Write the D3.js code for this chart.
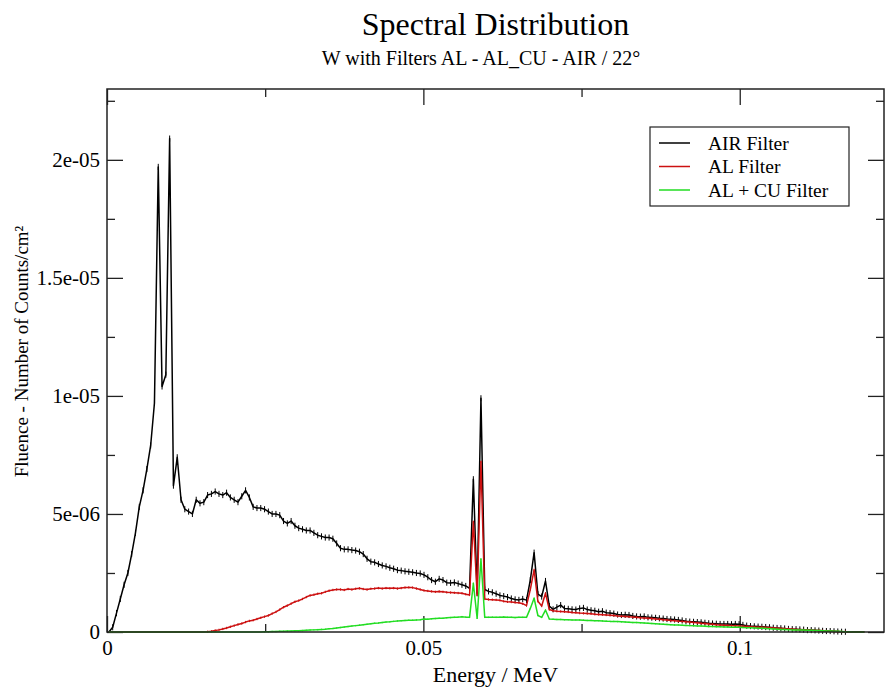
<!DOCTYPE html>
<html>
<head>
<meta charset="utf-8">
<script src="https://cdn.jsdelivr.net/npm/d3@7"></script>
<style>
  body { margin: 0; background: #fff; }
  svg { display: block; font-family: "Liberation Serif", "DejaVu Serif", serif; }
</style>
</head>
<body>
<div id="chart"></div>
<script>
// Spectrum bins: 0.6 keV wide, values in units of 1e-6 counts/cm²
var binWidth = 0.0006;

var airFilter = [
  0.0, 0.2, 0.8, 1.4, 2.0, 2.5, 3.3, 4.2, 5.3, 6.0,
  6.9, 7.9, 9.7, 19.7, 10.4, 10.9, 20.9, 6.2, 7.4, 5.6,
  5.2, 5.1, 5.0, 5.6, 5.45, 5.5, 5.8, 5.85, 5.95, 5.85,
  5.8, 5.9, 5.7, 5.6, 5.5, 5.75, 6.0, 5.7, 5.3, 5.25,
  5.25, 5.2, 5.1, 5.0, 5.0, 4.95, 4.7, 4.6, 4.7, 4.5,
  4.4, 4.35, 4.3, 4.3, 4.2, 4.1, 4.05, 4.0, 4.0, 3.95,
  3.75, 3.55, 3.5, 3.5, 3.47, 3.45, 3.4, 3.3, 3.1, 2.98,
  2.95, 2.88, 2.82, 2.78, 2.72, 2.68, 2.62, 2.6, 2.57, 2.55,
  2.53, 2.5, 2.48, 2.42, 2.32, 2.2, 2.13, 2.25, 2.2, 2.09,
  2.08, 2.1, 2.05, 2.0, 1.95, 1.85, 6.47, 1.64, 9.9, 1.8,
  1.72, 1.68, 1.62, 1.55, 1.52, 1.48, 1.42, 1.38, 1.36, 1.4,
  1.35, 2.2, 3.36, 1.6, 1.5, 2.16, 1.1, 0.96, 1.05, 1.14,
  1.0, 0.98, 0.96, 0.95, 1.0, 1.02, 0.95, 0.92, 0.9, 0.86,
  0.88, 0.82, 0.8, 0.78, 0.74, 0.72, 0.73, 0.72, 0.68, 0.66,
  0.65, 0.66, 0.62, 0.61, 0.6, 0.58, 0.57, 0.55, 0.54, 0.53,
  0.51, 0.49, 0.46, 0.44, 0.43, 0.42, 0.41, 0.39, 0.37, 0.36,
  0.35, 0.34, 0.34, 0.34, 0.33, 0.34, 0.33, 0.3, 0.27, 0.25,
  0.24, 0.23, 0.22, 0.21, 0.2, 0.18, 0.17, 0.16, 0.15, 0.13,
  0.12, 0.12, 0.11, 0.1, 0.08, 0.08, 0.07, 0.06, 0.05, 0.04,
  0.04, 0.03, 0.02, 0.01, 0.01, 0.0, 0.0, 0.0, 0.0, 0.0
];

var alFilter = [
  0, 0, 0, 0, 0, 0, 0, 0, 0, 0,
  0, 0, 0, 0, 0, 0, 0, 0, 0, 0,
  0, 0, 0, 0, 0, 0, 0.01, 0.03, 0.06, 0.09,
  0.13, 0.17, 0.22, 0.27, 0.32, 0.36, 0.42, 0.47, 0.5, 0.55,
  0.6, 0.65, 0.7, 0.78, 0.85, 0.95, 1.05, 1.12, 1.2, 1.28,
  1.33, 1.4, 1.48, 1.55, 1.58, 1.62, 1.64, 1.7, 1.75, 1.78,
  1.8, 1.8, 1.78, 1.82, 1.8, 1.83, 1.85, 1.82, 1.8, 1.83,
  1.84, 1.86, 1.84, 1.86, 1.85, 1.86, 1.84, 1.86, 1.88, 1.89,
  1.88, 1.84, 1.8, 1.76, 1.74, 1.72, 1.7, 1.72, 1.7, 1.68,
  1.67, 1.66, 1.65, 1.64, 1.6, 1.57, 4.67, 1.57, 7.21, 1.4,
  1.38, 1.37, 1.36, 1.34, 1.3, 1.28, 1.27, 1.25, 1.24, 1.2,
  1.12, 1.8, 2.63, 1.3, 1.1, 1.64, 0.95, 0.9, 0.88, 0.87,
  0.86, 0.85, 0.83, 0.82, 0.8, 0.79, 0.78, 0.77, 0.75, 0.74,
  0.73, 0.72, 0.71, 0.7, 0.68, 0.67, 0.66, 0.65, 0.63, 0.62,
  0.6, 0.59, 0.58, 0.57, 0.55, 0.54, 0.52, 0.51, 0.49, 0.48,
  0.46, 0.45, 0.43, 0.42, 0.4, 0.39, 0.37, 0.36, 0.34, 0.33,
  0.31, 0.3, 0.29, 0.28, 0.27, 0.26, 0.25, 0.24, 0.23, 0.22,
  0.21, 0.2, 0.2, 0.19, 0.18, 0.17, 0.16, 0.15, 0.14, 0.13,
  0.12, 0.11, 0.1, 0.09, 0.08, 0.07, 0.06, 0.06, 0.05, 0.04,
  0.03, 0.02, 0.02, 0.01, 0.01, 0, 0, 0, 0, 0
];

var alCuFilter = [
  0, 0, 0, 0, 0, 0, 0, 0, 0, 0,
  0, 0, 0, 0, 0, 0, 0, 0, 0, 0,
  0, 0, 0, 0, 0, 0, 0, 0, 0, 0,
  0, 0, 0, 0, 0, 0, 0, 0, 0, 0,
  0.0, 0.01, 0.01, 0.02, 0.02, 0.03, 0.03, 0.04, 0.04, 0.05,
  0.05, 0.06, 0.07, 0.08, 0.09, 0.1, 0.11, 0.12, 0.14, 0.15,
  0.17, 0.19, 0.21, 0.23, 0.25, 0.27, 0.29, 0.31, 0.33, 0.35,
  0.37, 0.38, 0.4, 0.42, 0.43, 0.45, 0.47, 0.48, 0.49, 0.5,
  0.5, 0.51, 0.52, 0.55, 0.54, 0.56, 0.57, 0.58, 0.58, 0.6,
  0.61, 0.62, 0.63, 0.65, 0.63, 0.62, 2.06, 0.58, 3.09, 0.62,
  0.62, 0.63, 0.62, 0.63, 0.64, 0.62, 0.62, 0.61, 0.62, 0.62,
  0.62, 1.0, 1.43, 0.7, 0.62, 0.93, 0.55, 0.54, 0.53, 0.53,
  0.52, 0.52, 0.51, 0.51, 0.51, 0.5, 0.49, 0.49, 0.48, 0.48,
  0.47, 0.46, 0.45, 0.45, 0.44, 0.43, 0.42, 0.41, 0.4, 0.4,
  0.39, 0.38, 0.37, 0.36, 0.35, 0.34, 0.33, 0.32, 0.31, 0.3,
  0.3, 0.29, 0.28, 0.27, 0.26, 0.25, 0.25, 0.24, 0.23, 0.23,
  0.22, 0.22, 0.21, 0.21, 0.2, 0.2, 0.2, 0.19, 0.18, 0.18,
  0.17, 0.16, 0.16, 0.15, 0.14, 0.13, 0.12, 0.11, 0.11, 0.1,
  0.09, 0.09, 0.08, 0.08, 0.07, 0.07, 0.06, 0.06, 0.05, 0.04,
  0.04, 0.03, 0.03, 0.02, 0.01, 0.01, 0, 0, 0, 0
];

// statistical uncertainty (same units) per series
var seriesNames = ["AIR Filter", "AL Filter", "AL + CU Filter"];
var seriesErrors = [0.13, 0.05, 0.03];
var seriesColors = ["#000000", "#cc1111", "#22dd22"];

var xTicks = [0, 0.05, 0.1];
var xTickLabels = ["0", "0.05", "0.1"];
var xMinorTicks = [0.025, 0.075];
var yTicks = [0, 5, 10, 15, 20];
var yTickLabels = ["0", "5e-06", "1e-05", "1.5e-05", "2e-05"];
var yMinorTicks = [2.5, 7.5, 12.5, 17.5, 22.5];

var width = 893, height = 689;
var plot = { left: 107, right: 884, top: 89, bottom: 632 };

var svg = d3.select("#chart").append("svg")
    .attr("width", width)
    .attr("height", height);

var x = d3.scaleLinear().domain([0, 0.1228]).range([plot.left, plot.right]);
var y = d3.scaleLinear().domain([0, 23]).range([plot.bottom, plot.top]);

// titles
svg.append("text")
    .attr("x", (plot.left + plot.right) / 2).attr("y", 35)
    .attr("text-anchor", "middle").attr("font-size", 32)
    .text("Spectral Distribution");
svg.append("text")
    .attr("x", 481).attr("y", 65)
    .attr("text-anchor", "middle").attr("font-size", 20)
    .text("W with Filters AL - AL_CU - AIR / 22°");

// axes: ticks point inward on all four sides
function styleAxis(g) {
    g.select(".domain").remove();
    g.selectAll(".tick line").attr("stroke", "#222").attr("stroke-width", 1.3);
    g.selectAll(".tick text").attr("font-size", 21).attr("fill", "#000")
        .attr("font-family", "Liberation Serif, serif");
}

var xLabelFor = function (d) { return xTickLabels[xTicks.indexOf(d)]; };
var yLabelFor = function (d) { return yTickLabels[yTicks.indexOf(d)]; };

svg.append("g").attr("transform", "translate(0," + plot.bottom + ")")
    .call(d3.axisBottom(x).tickValues(xTicks).tickFormat(xLabelFor).tickSizeInner(-16).tickSizeOuter(0).tickPadding(8))
    .call(styleAxis);
svg.append("g").attr("transform", "translate(0," + plot.bottom + ")")
    .call(d3.axisBottom(x).tickValues(xMinorTicks).tickFormat("").tickSizeInner(-8).tickSizeOuter(0))
    .call(styleAxis);
svg.append("g").attr("transform", "translate(0," + plot.top + ")")
    .call(d3.axisTop(x).tickValues(xTicks).tickFormat("").tickSizeInner(-16).tickSizeOuter(0))
    .call(styleAxis);
svg.append("g").attr("transform", "translate(0," + plot.top + ")")
    .call(d3.axisTop(x).tickValues(xMinorTicks).tickFormat("").tickSizeInner(-8).tickSizeOuter(0))
    .call(styleAxis);

svg.append("g").attr("transform", "translate(" + plot.left + ",0)")
    .call(d3.axisLeft(y).tickValues(yTicks).tickFormat(yLabelFor).tickSizeInner(-16).tickSizeOuter(0).tickPadding(7))
    .call(styleAxis);
svg.append("g").attr("transform", "translate(" + plot.left + ",0)")
    .call(d3.axisLeft(y).tickValues(yMinorTicks).tickFormat("").tickSizeInner(-8).tickSizeOuter(0))
    .call(styleAxis);
svg.append("g").attr("transform", "translate(" + plot.right + ",0)")
    .call(d3.axisRight(y).tickValues(yTicks).tickFormat("").tickSizeInner(-16).tickSizeOuter(0))
    .call(styleAxis);
svg.append("g").attr("transform", "translate(" + plot.right + ",0)")
    .call(d3.axisRight(y).tickValues(yMinorTicks).tickFormat("").tickSizeInner(-8).tickSizeOuter(0))
    .call(styleAxis);

// axis titles
svg.append("text")
    .attr("x", (plot.left + plot.right) / 2).attr("y", 682)
    .attr("text-anchor", "middle").attr("font-size", 22)
    .text("Energy / MeV");
svg.append("text")
    .attr("transform", "translate(28," + ((plot.top + plot.bottom) / 2 - 9) + ") rotate(-90)")
    .attr("text-anchor", "middle").attr("font-size", 19)
    .text("Fluence - Number of Counts/cm²");

// data series
var seriesData = [airFilter, alFilter, alCuFilter].map(function (vals, s) {
    return vals.map(function (v, i) {
        return { e: (i + 0.5) * binWidth, v: v, err: seriesErrors[s] };
    });
});

var line = d3.line()
    .x(function (d) { return x(d.e); })
    .y(function (d) { return y(d.v); });

var plotArea = svg.append("g");

seriesData.forEach(function (pts, s) {
    var g = plotArea.append("g");
    g.selectAll("line.err")
        .data(pts.filter(function (d) { return d.v > 0; }))
        .enter().append("line")
        .attr("class", "err")
        .attr("x1", function (d) { return x(d.e); })
        .attr("x2", function (d) { return x(d.e); })
        .attr("y1", function (d) { return y(d.v - d.err); })
        .attr("y2", function (d) { return y(d.v + d.err); })
        .attr("stroke", seriesColors[s])
        .attr("stroke-width", 1);
    g.append("path")
        .datum(pts)
        .attr("fill", "none")
        .attr("stroke", seriesColors[s])
        .attr("stroke-width", 1.5)
        .attr("stroke-linejoin", "round")
        .attr("d", line);
});

// frame
svg.append("rect")
    .attr("x", plot.left).attr("y", plot.top)
    .attr("width", plot.right - plot.left).attr("height", plot.bottom - plot.top)
    .attr("fill", "none").attr("stroke", "#222").attr("stroke-width", 1.5);

// legend
var legend = svg.append("g");
legend.append("rect")
    .attr("x", 650).attr("y", 127).attr("width", 199).attr("height", 79)
    .attr("fill", "#fff").attr("stroke", "#222").attr("stroke-width", 1.2);
seriesNames.forEach(function (name, s) {
    var cy = 143 + s * 23.5;
    legend.append("line")
        .attr("x1", 659).attr("x2", 690).attr("y1", cy).attr("y2", cy)
        .attr("stroke", seriesColors[s]).attr("stroke-width", 1.5);
    legend.append("text")
        .attr("x", 708).attr("y", cy + 6.5)
        .attr("font-size", 19.5)
        .text(name);
});
</script>
</body>
</html>
